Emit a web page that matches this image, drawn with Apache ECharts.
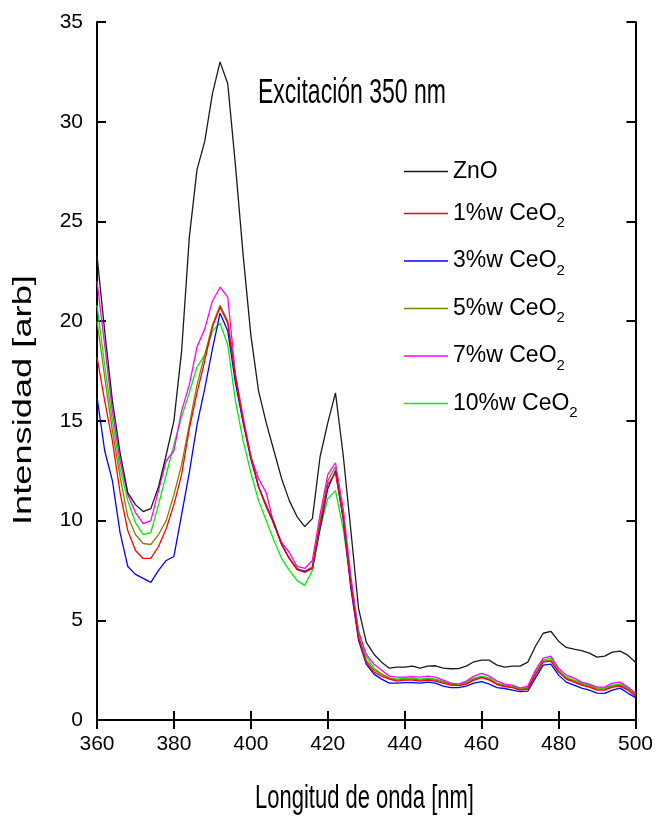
<!DOCTYPE html>
<html>
<head>
<meta charset="utf-8">
<script src="https://cdn.jsdelivr.net/npm/echarts@6/dist/echarts.min.js"></script>
<style>
  html, body { margin: 0; padding: 0; background: #fff; }
  #chart { width: 656px; height: 827px; }
</style>
</head>
<body>
<div id="chart"></div>
<script>
// Emission wavelengths (nm), sampled every 2 nm
const wavelength = [];
for (let w = 360; w <= 500; w += 2) wavelength.push(w);

// Photoluminescence intensity [arb] for each sample
const zno = [23.3,19.5,16.0,13.4,11.4,10.8,10.45,10.6,11.7,13.3,15.0,18.5,24.2,27.6,29.0,31.4,33.0,31.9,27.8,23.3,
  19.3,16.5,14.9,13.5,12.1,11.0,10.2,9.7,10.1,13.2,14.9,16.4,13.3,9.5,5.6,3.9,3.3,2.9,2.6,2.65,
  2.65,2.7,2.6,2.7,2.72,2.6,2.57,2.58,2.7,2.92,3.0,3.0,2.75,2.65,2.7,2.7,2.9,3.7,4.35,4.45,
  3.95,3.64,3.55,3.48,3.35,3.15,3.2,3.4,3.45,3.25,2.9];
const ceo2_1 = [18.2,16.0,14.0,11.4,9.5,8.5,8.1,8.1,8.7,9.6,10.8,12.3,14.6,16.4,18.0,19.7,20.7,19.9,17.2,15.0,
  13.2,11.7,10.7,9.8,8.8,8.1,7.55,7.4,7.6,9.8,11.8,12.4,10.1,6.8,4.1,2.9,2.4,2.2,2.05,1.95,
  2.0,2.0,1.95,2.0,1.95,1.85,1.75,1.72,1.8,2.0,2.12,2.0,1.78,1.68,1.62,1.5,1.55,2.25,2.9,2.95,
  2.4,2.05,1.9,1.75,1.65,1.5,1.5,1.65,1.7,1.5,1.2];
const ceo2_3 = [16.2,13.5,12.0,9.4,7.7,7.3,7.1,6.9,7.5,8.0,8.2,10.3,12.4,14.8,16.6,18.6,20.4,19.5,16.9,14.9,
  13.1,11.7,10.7,9.9,8.8,8.1,7.55,7.45,7.6,9.6,11.6,12.5,10.1,6.6,4.0,2.8,2.3,2.05,1.85,1.85,
  1.87,1.87,1.85,1.9,1.85,1.7,1.62,1.62,1.7,1.85,1.92,1.8,1.62,1.58,1.5,1.42,1.45,2.1,2.75,2.8,
  2.25,1.9,1.75,1.6,1.5,1.35,1.34,1.5,1.6,1.35,1.12];
const ceo2_5 = [20.0,17.2,14.5,12.2,10.2,9.3,8.85,8.8,9.3,10.0,11.3,12.8,14.8,16.8,18.3,19.8,20.8,20.0,17.3,15.0,
  13.2,11.7,10.8,9.9,8.8,8.1,7.6,7.45,7.7,10.0,12.0,12.7,10.2,6.8,4.2,3.0,2.5,2.3,2.1,2.0,
  2.05,2.05,2.0,2.05,2.0,1.9,1.78,1.74,1.85,2.05,2.15,2.05,1.8,1.7,1.65,1.52,1.6,2.3,2.95,3.0,
  2.45,2.1,1.95,1.8,1.7,1.55,1.55,1.7,1.75,1.55,1.25];
const ceo2_7 = [22.0,18.8,15.5,13.0,11.3,10.4,9.85,10.0,11.5,13.0,13.5,15.5,16.8,18.7,19.6,21.0,21.7,21.2,17.3,15.2,
  13.2,12.1,11.4,9.8,8.9,8.4,7.7,7.6,8.0,10.3,12.3,12.9,10.6,7.2,4.4,3.3,2.8,2.5,2.2,2.15,
  2.15,2.17,2.15,2.2,2.15,2.0,1.85,1.8,1.95,2.2,2.34,2.2,1.95,1.8,1.75,1.6,1.7,2.5,3.1,3.2,
  2.6,2.25,2.1,1.9,1.8,1.65,1.65,1.85,1.9,1.65,1.35];
const ceo2_10 = [20.8,17.8,15.0,12.6,11.0,9.9,9.3,9.4,10.8,12.3,13.8,15.2,16.4,17.7,18.3,19.5,19.9,18.8,16.0,14.0,
  12.4,11.0,10.0,9.0,8.1,7.5,7.0,6.75,7.5,9.6,11.1,11.5,9.6,6.9,4.5,3.2,2.6,2.3,2.1,2.05,
  2.1,2.1,2.05,2.1,2.05,1.95,1.8,1.75,1.9,2.1,2.2,2.1,1.85,1.75,1.7,1.55,1.65,2.4,3.0,3.1,
  2.5,2.15,2.0,1.85,1.75,1.6,1.6,1.75,1.8,1.6,1.3];

const seriesNames = ['ZnO', '1%w CeO2', '3%w CeO2', '5%w CeO2', '7%w CeO2', '10%w CeO2'];
const seriesValues = [zno, ceo2_1, ceo2_3, ceo2_5, ceo2_7, ceo2_10];
const seriesColors = ['#1a1a1a', '#ff0000', '#0000ff', '#808000', '#ff00ff', '#00ee00'];

const xTicks = [360, 380, 400, 420, 440, 460, 480, 500];
const yTicks = [0, 5, 10, 15, 20, 25, 30, 35];

const font = "'Liberation Sans', Arial, sans-serif";

const chart = echarts.init(document.getElementById('chart'));

function frameAxis(extra, showLabels) {
  return Object.assign({
    type: 'value',
    axisLine: { show: true, lineStyle: { color: '#000', width: 2 } },
    axisTick: { show: true, inside: true, length: 9, lineStyle: { color: '#000', width: 2 } },
    splitLine: { show: false },
    axisLabel: showLabels
      ? { show: true, color: '#000', fontFamily: font, fontSize: 21, margin: 14 }
      : { show: false }
  }, extra);
}

const xRange = { min: xTicks[0], max: xTicks[xTicks.length - 1], interval: 20 };
const yRange = { min: yTicks[0], max: yTicks[yTicks.length - 1], interval: 5 };

const option = {
  animation: false,
  backgroundColor: '#fff',
  grid: { left: 97, right: 18, top: 22, bottom: 107, containLabel: false },
  xAxis: [
    frameAxis(Object.assign({ position: 'bottom' }, xRange), true),
    frameAxis(Object.assign({ position: 'top' }, xRange), false)
  ],
  yAxis: [
    frameAxis(Object.assign({ position: 'left' }, yRange), true),
    frameAxis(Object.assign({ position: 'right' }, yRange), false)
  ],
  legend: {
    orient: 'vertical',
    left: 404,
    top: 160,
    padding: 0,
    icon: 'rect',
    itemWidth: 44,
    itemHeight: 1.5,
    itemGap: 19,
    data: seriesNames,
    formatter: function (name) {
      const m = name.match(/^(.*CeO)2$/);
      return m ? '{a|' + m[1] + '}{s|2}' : '{a|' + name + '}';
    },
    textStyle: {
      color: '#000',
      rich: {
        a: { fontFamily: font, fontSize: 23, lineHeight: 34, color: '#000', verticalAlign: 'middle' },
        s: { fontFamily: font, fontSize: 15, lineHeight: 20, color: '#000', verticalAlign: 'bottom' }
      }
    }
  },
  graphic: [
    {
      type: 'text', left: 258, top: 76,
      scaleY: 1.5,
      style: { text: 'Excitación 350 nm', font: '23px ' + font, fill: '#000' }
    },
    {
      type: 'text', x: 255, y: 782,
      scaleY: 1.5,
      style: { text: 'Longitud de onda [nm]', font: '22px ' + font, fill: '#000' }
    },
    {
      type: 'text', x: 12, y: 525, rotation: Math.PI / 2,
      scaleX: 1.45,
      style: { text: 'Intensidad [arb]', font: '25px ' + font, fill: '#000' }
    }
  ],
  series: seriesNames.map(function (name, i) {
    return {
      name: name,
      type: 'line',
      xAxisIndex: 0,
      yAxisIndex: 0,
      symbol: 'none',
      smooth: false,
      color: seriesColors[i],
      lineStyle: { width: 1.3, color: seriesColors[i] },
      data: wavelength.map(function (w, k) { return [w, seriesValues[i][k]]; }),
      z: 10 - i
    };
  })
};

chart.setOption(option);
</script>
</body>
</html>
